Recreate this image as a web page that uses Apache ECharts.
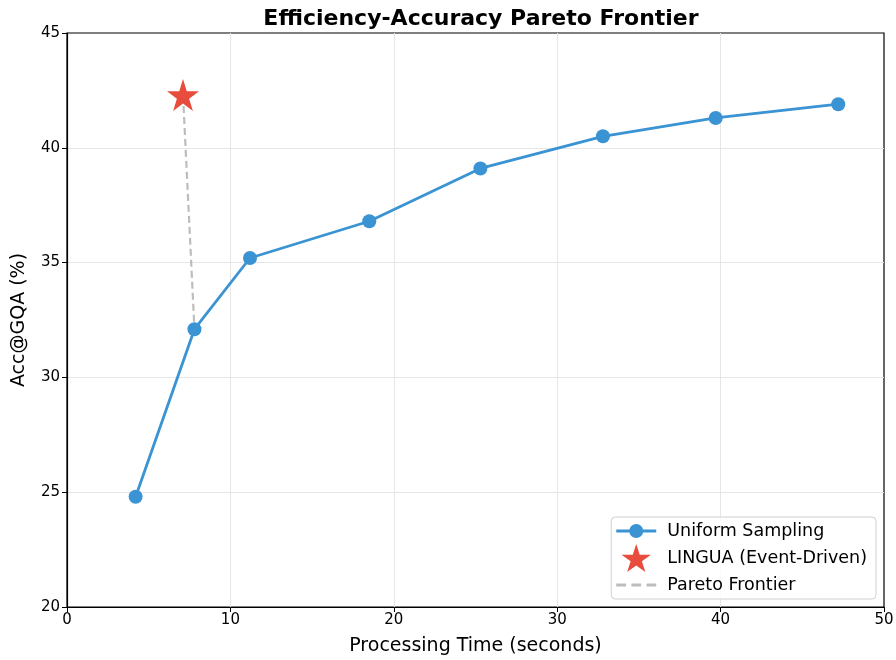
<!DOCTYPE html>
<html><head><meta charset="utf-8">
<script src="https://cdn.jsdelivr.net/npm/echarts@6/dist/echarts.min.js"></script>
<style>html,body{margin:0;padding:0;background:#fff}#c{width:896px;height:660px}</style>
</head><body><div id="c"></div>
<script>
const uniformTime = [4.2, 7.8, 11.2, 18.5, 25.3, 32.8, 39.7, 47.2];
const uniformAcc  = [24.8, 32.1, 35.2, 36.8, 39.1, 40.5, 41.3, 41.9];
const linguaTime = [7.1];
const linguaAcc  = [42.3];
const paretoTime = [7.1, 7.8];
const paretoAcc  = [42.3, 32.1];
const xTicks = [0, 10, 20, 30, 40, 50];
const yTicks = [20, 25, 30, 35, 40, 45];

const zip = (a, b) => a.map((v, i) => [v, b[i]]);
const starPath = 'path://M50,0 L61.8,36.2 L100,36.2 L69.1,58.8 L80.9,95.1 L50,72.7 L19.1,95.1 L30.9,58.8 L0,36.2 L38.2,36.2 Z';
const dashPath = 'path://M0,0h9v2.6h-9z M14,0h9v2.6h-9z M28,0h9v2.6h-9z';
const lineDotPath = 'path://M0,5.6h40v2.8h-40z M27,7 A7,7 0 1 1 13,7 A7,7 0 1 1 27,7 Z';
const font = 'DejaVu Sans';

const chart = echarts.init(document.getElementById('c'), null, {renderer: 'canvas'});
chart.setOption({
  animation: false,
  backgroundColor: '#fff',
  title: {
    text: 'Efficiency-Accuracy Pareto Frontier',
    left: 476, top: 3, textAlign: 'center',
    textStyle: {fontFamily: font, fontWeight: 'bold', fontSize: 22, color: '#000'}
  },
  grid: {left: 67, right: 12, top: 33, bottom: 53, outerBoundsMode: 'none', containLabel: false,
    show: true, borderColor: '#000', borderWidth: 1.2, backgroundColor: 'transparent'},
  xAxis: {
    type: 'value', min: xTicks[0], max: xTicks[xTicks.length - 1], interval: 10,
    name: 'Processing Time (seconds)', nameLocation: 'middle', nameGap: 30,
    nameTextStyle: {fontFamily: font, fontSize: 19, color: '#000'},
    axisLine: {show: true, onZero: false, lineStyle: {color: '#000', width: 1.2}},
    axisTick: {show: true, length: 5, lineStyle: {color: '#000'}},
    axisLabel: {fontFamily: font, fontSize: 15, color: '#000', margin: 6},
    splitLine: {show: true, showMinLine: false, showMaxLine: false, lineStyle: {color: '#e6e6e6', width: 1}}
  },
  yAxis: {
    type: 'value', min: yTicks[0], max: yTicks[yTicks.length - 1], interval: 5,
    name: 'Acc@GQA (%)', nameLocation: 'middle', nameGap: 38,
    nameTextStyle: {fontFamily: font, fontSize: 19, color: '#000'},
    axisLine: {show: true, onZero: false, lineStyle: {color: '#000', width: 1.2}},
    axisTick: {show: true, length: 5, lineStyle: {color: '#000'}},
    axisLabel: {fontFamily: font, fontSize: 15, color: '#000', margin: 7},
    splitLine: {show: true, showMinLine: false, showMaxLine: false, lineStyle: {color: '#e6e6e6', width: 1}}
  },
  legend: {
    orient: 'vertical', right: 20, bottom: 61,
    backgroundColor: 'rgba(255,255,255,0.85)', borderColor: '#d0d0d0', borderWidth: 1, borderRadius: 4,
    padding: [5, 9, 5, 5], itemGap: 4, itemWidth: 40, itemHeight: 28,
    textStyle: {fontFamily: font, fontSize: 17.5, color: '#000', padding: [0, 0, 0, 6]},
    data: [
      {name: 'Uniform Sampling', icon: lineDotPath},
      {name: 'LINGUA (Event-Driven)', icon: starPath},
      {name: 'Pareto Frontier', icon: dashPath}
    ]
  },
  series: [
    {
      name: 'Pareto Frontier', type: 'line', data: zip(paretoTime, paretoAcc),
      symbol: 'none', z: 1,
      lineStyle: {color: '#bdbdbd', width: 2.2, type: [7, 4]}, itemStyle: {color: '#bdbdbd'}
    },
    {
      name: 'Uniform Sampling', type: 'line', data: zip(uniformTime, uniformAcc),
      symbol: 'circle', symbolSize: 14, z: 3,
      lineStyle: {color: '#3a93d3', width: 2.8}, itemStyle: {color: '#3a93d3'}
    },
    {
      name: 'LINGUA (Event-Driven)', type: 'scatter', data: zip(linguaTime, linguaAcc),
      symbol: starPath, symbolSize: 32, z: 4,
      itemStyle: {color: '#e74c3c', opacity: 1}
    }
  ]
});
</script></body></html>
